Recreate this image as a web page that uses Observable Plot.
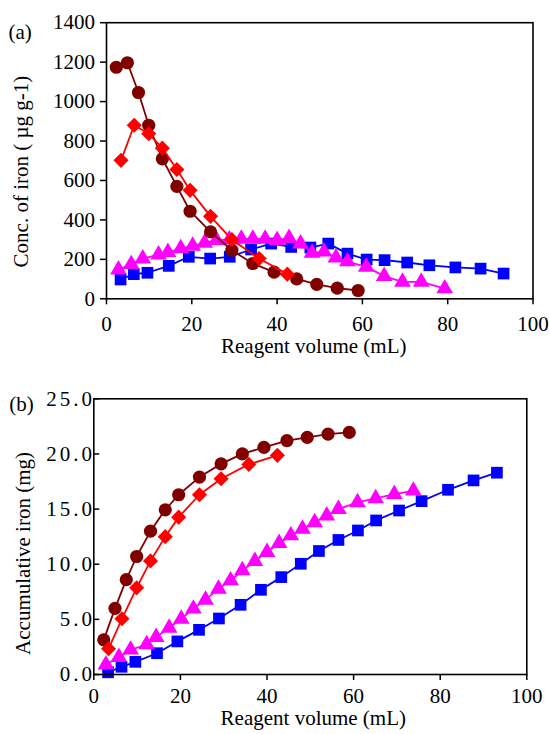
<!DOCTYPE html>
<html><head><meta charset="utf-8">
<script src="https://cdn.jsdelivr.net/npm/d3@7"></script>
<script src="https://cdn.jsdelivr.net/npm/@observablehq/plot@0.6"></script>
<style>
html,body{margin:0;padding:0;background:#fff;}
#chart{width:549px;height:734px;position:relative;overflow:hidden;background:#fff}
#chart svg{display:block}
.pb g[aria-label="y-axis tick label"] text{letter-spacing:3px}
</style></head><body><div id="chart"></div>
<script>
// Series (no legend in the original): maroon circles, red diamonds, magenta triangles, blue squares
const maroonX = [2.3, 4.9, 7.5, 9.9, 13.1, 16.5, 19.6, 24.4, 29.4, 34.3, 39.3, 44.6, 49.3, 54.1, 59.0];
const maroonConc = [1174, 1197, 1046, 880, 710, 570, 444, 339, 246, 179, 135, 101, 73, 54, 42];
const maroonCum = [3.14, 6.0, 8.6, 10.7, 13.0, 14.93, 16.3, 17.9, 19.1, 20.0, 20.6, 21.2, 21.5, 21.8, 21.95];

const redX = [3.4, 6.5, 9.9, 13.1, 16.5, 19.6, 24.4, 29.4, 35.8, 42.4];
const redConc = [702, 880, 837, 764, 656, 550, 418, 300, 204, 125];
const redCum = [2.33, 5.05, 7.86, 10.3, 12.5, 14.27, 16.3, 17.75, 19.05, 19.87];

const magentaX = [2.8, 5.8, 8.5, 12.2, 14.4, 17.4, 20.2, 23.0, 25.8, 28.8, 31.6, 34.3, 37.2, 40.0, 42.8, 45.5, 48.2, 51.0, 53.8, 56.5, 60.9, 65.1, 69.4, 73.8, 79.3];
const magentaConc = [148, 175, 204, 224, 236, 255, 268, 283, 297, 300, 304, 304, 304, 297, 307, 280, 233, 239, 209, 189, 162, 115, 86, 86, 52];
const magentaCum = [0.9, 1.57, 2.24, 2.72, 3.39, 4.23, 5.05, 5.96, 6.77, 7.77, 8.52, 9.43, 10.27, 11.1, 11.9, 12.6, 13.2, 13.8, 14.4, 15.0, 15.6, 15.97, 16.36, 16.66];

const blueX = [3.3, 6.4, 9.6, 14.6, 19.3, 24.3, 28.9, 33.9, 38.6, 43.3, 47.8, 52.0, 56.5, 61.0, 65.2, 70.5, 75.7, 81.8, 87.7, 93.1];
const blueConc = [98, 125, 132, 167, 213, 204, 213, 250, 280, 263, 260, 280, 229, 199, 196, 184, 170, 159, 153, 128];
const blueCum = [0.2, 0.7, 1.15, 1.93, 3.0, 4.05, 5.08, 6.32, 7.68, 8.83, 10.04, 11.2, 12.2, 13.06, 13.97, 14.87, 15.72, 16.75, 17.6, 18.3];

const xTicks = [0, 20, 40, 60, 80, 100];
const yTicksA = [0, 200, 400, 600, 800, 1000, 1200, 1400];
const yTicksB = [0, 5, 10, 15, 20, 25];

const xLabel = "Reagent volume (mL)";
const yLabelA = "Conc. of iron ( µg g-1)";
const yLabelB = "Accumulative iron (mg)";

const styles = [
  {xs: blueX, key: "blue", color: "#0000ff", symbol: "square", r: 6.6},
  {xs: magentaX, key: "magenta", color: "#ff00ff", symbol: "triangle", r: 6.2},
  {xs: maroonX, key: "maroon", color: "#800000", symbol: "circle", r: 6.6},
  {xs: redX, key: "red", color: "#ff0000", symbol: "diamond2", r: 6.8}
];

function rows(xs, ys) {
  const n = Math.min(xs.length, ys.length);
  return d3.range(n).map(i => ({x: xs[i], y: ys[i]}));
}

function seriesMarks(valuesByKey) {
  const marks = [];
  for (const s of styles) {
    const data = rows(s.xs, valuesByKey[s.key]);
    marks.push(Plot.line(data, {x: "x", y: "y", stroke: s.color, strokeWidth: 1.8}));
    marks.push(Plot.dot(data, {x: "x", y: "y", symbol: s.symbol, fill: s.color, stroke: "none", r: s.r}));
  }
  return marks;
}

const font = "'Liberation Serif', 'Times New Roman', serif";

const plotA = Plot.plot({
  width: 549, height: 365,
  marginTop: 22.2, marginBottom: 66.7, marginLeft: 106, marginRight: 16.5,
  style: {fontFamily: font, fontSize: "21px", background: "#fff", color: "#000"},
  x: {domain: [0, 100]},
  y: {domain: [0, 1400]},
  marks: [
    ...seriesMarks({blue: blueConc, magenta: magentaConc, maroon: maroonConc, red: redConc}),
    Plot.frame({stroke: "#000", strokeWidth: 1.6}),
    Plot.axisX({ticks: xTicks, tickSize: 6, tickPadding: 11, label: null, fontSize: 21, strokeWidth: 1.5}),
    Plot.axisY({ticks: yTicksA, tickSize: 6, tickPadding: 5.6, label: null, fontSize: 21, strokeWidth: 1.5, tickFormat: d3.format("d")}),
    Plot.text([xLabel], {frameAnchor: "bottom", textAnchor: "middle", dy: 53.7, dx: -6, fontSize: 21}),
    Plot.text([yLabelA], {frameAnchor: "left", textAnchor: "middle", rotate: -90, dx: -85, dy: 10.8, fontSize: 21}),
    Plot.text(["(a)"], {frameAnchor: "top-left", textAnchor: "start", dx: -98, dy: 1, fontSize: 21})
  ]
});

const plotB = Plot.plot({
  width: 549, height: 369,
  marginTop: 33.3, marginBottom: 60, marginLeft: 93.3, marginRight: 22.7,
  style: {fontFamily: font, fontSize: "21px", background: "#fff", color: "#000"},
  x: {domain: [0, 100]},
  y: {domain: [0, 25]},
  marks: [
    ...seriesMarks({blue: blueCum, magenta: magentaCum, maroon: maroonCum, red: redCum}),
    Plot.frame({stroke: "#000", strokeWidth: 1.6}),
    Plot.axisX({ticks: xTicks, tickSize: 6, tickPadding: 7.3, label: null, fontSize: 21, strokeWidth: 1.5}),
    Plot.axisY({ticks: yTicksB, tickSize: -6, tickPadding: 4.7, label: null, fontSize: 21, strokeWidth: 1.5, tickFormat: d3.format(".1f")}),
    Plot.text([xLabel], {frameAnchor: "bottom", textAnchor: "middle", dy: 50, dx: 3, fontSize: 21}),
    Plot.text([yLabelB], {frameAnchor: "left", textAnchor: "middle", rotate: -90, dx: -70.6, dy: 16.8, fontSize: 21}),
    Plot.text(["(b)"], {frameAnchor: "top-left", textAnchor: "start", dx: -84.6, dy: -2.3, fontSize: 21})
  ]
});
plotB.classList.add("pb");

const chart = document.getElementById("chart");
chart.appendChild(plotA);
chart.appendChild(plotB);
</script></body></html>
